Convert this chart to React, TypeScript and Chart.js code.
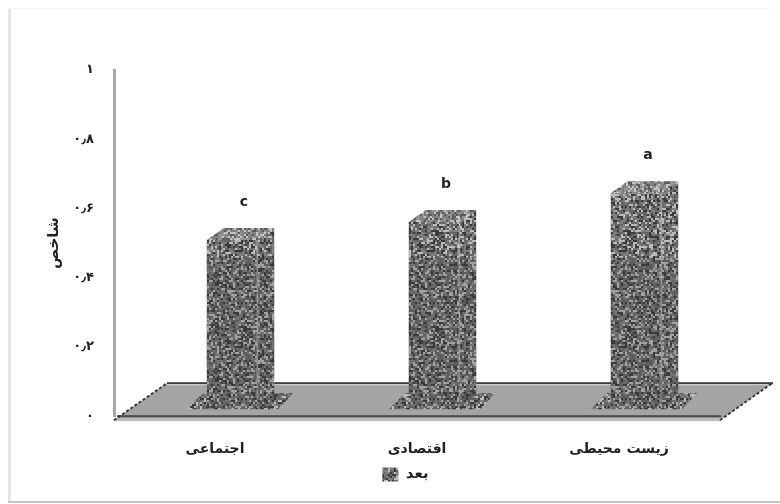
import React, { useEffect, useRef } from "react";
import { Chart, registerables } from "chart.js";

Chart.register(...registerables);

const categories = ["اجتماعی", "اقتصادی", "زیست محیطی"];
const scores = [0.486, 0.538, 0.621];
const groupLetters = ["c", "b", "a"];
const yTickValues = [0, 0.2, 0.4, 0.6, 0.8, 1];
const yTickLabels = ["۰", "۰٫۲", "۰٫۴", "۰٫۶", "۰٫۸", "۱"];
const yAxisTitle = "شاخص";
const seriesName = "بعد";

const FONT = "'DejaVu Sans', sans-serif";
const DEPTH_X = 17;
const DEPTH_Y = 12;
const LIFT = 8;
const SHADE_FROM = 0.46;

// Speckled fill shared by the columns, their footprints and the legend swatch.
function makeSpeckle(ctx: CanvasRenderingContext2D, base: string) {
  const size = 96;
  const tile = document.createElement("canvas");
  tile.width = size;
  tile.height = size;
  const t = tile.getContext("2d")!;
  t.fillStyle = base;
  t.fillRect(0, 0, size, size);
  let s = 12345;
  const next = () => {
    s = (s * 1103515 + 12345) & 0x7fffffff;
    return (s >> 8) / (0x7fffffff >> 8);
  };
  for (let y = 0; y < size; y += 2) {
    for (let x = 0; x < size; x += 2) {
      const r = next();
      if (r < 0.24) t.fillStyle = "#3a3a3a";
      else if (r < 0.44) t.fillStyle = "#bcbcbc";
      else if (r < 0.78) t.fillStyle = "#666666";
      else continue;
      t.fillRect(x, y, 2, 2);
    }
  }
  return ctx.createPattern(tile, "repeat")!;
}

function polygon(ctx: CanvasRenderingContext2D, pts: number[][]) {
  ctx.beginPath();
  pts.forEach(([x, y], i) => (i ? ctx.lineTo(x, y) : ctx.moveTo(x, y)));
  ctx.closePath();
}

export default function App() {
  const ref = useRef<HTMLCanvasElement>(null);

  useEffect(() => {
    const canvas = ref.current!;
    const speckle = makeSpeckle(canvas.getContext("2d")!, "#808080");

    const boxDepth = {
      id: "boxDepth",
      afterLayout(chart: any) {
        // Legend sits tight under the category labels, right of the page centre.
        const legend = chart.legend;
        legend.left += 23;
        legend.right += 23;
        legend.top -= 16;
        legend.bottom -= 16;
      },
      beforeDraw(chart: any) {
        const { ctx } = chart;
        ctx.save();
        ctx.fillStyle = "#e6e6e6";
        ctx.fillRect(8, 8, 3, 494);
        ctx.fillStyle = "#f7f7f7";
        ctx.fillRect(8, 8, 764, 1);
        ctx.fillStyle = "#c4c4c4";
        ctx.fillRect(8, 501, 772, 2);
        ctx.restore();
      },
      beforeDatasetsDraw(chart: any) {
        const { ctx, chartArea } = chart;
        const { left, right, bottom } = chartArea;
        const back = bottom - 33;
        ctx.save();
        // Floor slab
        polygon(ctx, [[left, bottom + 4], [right, bottom + 4], [right + 52, back], [left + 53, back]]);
        ctx.fillStyle = "#a4a4a4";
        ctx.fill();
        ctx.fillStyle = "#3c3c3c";
        ctx.fillRect(left + 53, back - 1, right - left, 2);
        ctx.fillStyle = "#d8d8d8";
        ctx.fillRect(left + 53, back + 1, right - left - 2, 1);
        ctx.fillStyle = "#4a4a4a";
        ctx.fillRect(left + 3, bottom - 1, right - left - 2, 2);
        ctx.fillStyle = "#bdbdbd";
        ctx.fillRect(left, bottom + 2, right - left, 3);
        ctx.strokeStyle = "#3a3a3a";
        ctx.lineWidth = 2;
        ctx.setLineDash([3, 2]);
        ctx.beginPath();
        ctx.moveTo(left, bottom + 4);
        ctx.lineTo(left + 53, back);
        ctx.moveTo(right, bottom + 4);
        ctx.lineTo(right + 52, back);
        ctx.stroke();
        ctx.setLineDash([]);
        // Footprint of each column on the floor
        const meta = chart.getDatasetMeta(0);
        meta.data.forEach((bar: any) => {
          const c = bar.x + DEPTH_X;
          const y0 = bottom - 7;
          polygon(ctx, [[c - 45, y0], [c + 46, y0], [c + 61, y0 - 16], [c - 29, y0 - 16]]);
          ctx.fillStyle = speckle;
          ctx.fill();
        });
        ctx.translate(DEPTH_X, -LIFT);
      },
      afterDatasetsDraw(chart: any) {
        const { ctx, scales } = chart;
        ctx.restore();
        ctx.save();
        const meta = chart.getDatasetMeta(0);
        const shadeY = scales.y.getPixelForValue(SHADE_FROM);
        meta.data.forEach((bar: any, i: number) => {
          const half = bar.width / 2;
          const xl = bar.x + DEPTH_X - half;
          const xr = bar.x + DEPTH_X + half;
          const top = bar.y - LIFT;
          const base = bar.base - LIFT;
          // Side face, top face and the lighter ridge between them
          polygon(ctx, [[xr, top], [xr + DEPTH_X, top - DEPTH_Y], [xr + DEPTH_X, base - DEPTH_Y + 10], [xr, base]]);
          ctx.fillStyle = speckle;
          ctx.fill();
          polygon(ctx, [[xl, top], [xl + DEPTH_X, top - DEPTH_Y], [xr + DEPTH_X, top - DEPTH_Y], [xr, top]]);
          ctx.fill();
          ctx.fillStyle = "rgba(230,230,230,0.2)";
          ctx.fill();
          ctx.fillStyle = "rgba(225,225,225,0.3)";
          ctx.fillRect(xr - 1, top, 2, base - top);
          ctx.fillStyle = "rgba(60,60,60,0.2)";
          ctx.fillRect(xl, shadeY, xr + DEPTH_X - xl, base - shadeY);
          // Group letter above the column
          ctx.fillStyle = "#222";
          ctx.font = `bold 14px ${FONT}`;
          ctx.textAlign = "center";
          ctx.textBaseline = "middle";
          ctx.fillText(groupLetters[i], bar.x + DEPTH_X + 12, top - DEPTH_Y - 26);
        });
        ctx.restore();
      },
    };

    const chart = new Chart(canvas, {
      type: "bar",
      data: {
        labels: categories,
        datasets: [
          {
            label: seriesName,
            data: scores,
            backgroundColor: speckle as any,
            barPercentage: 0.25,
            categoryPercentage: 1,
          },
        ],
      },
      options: {
        responsive: false,
        animation: false,
        layout: { padding: { left: 45, right: 60, top: 70, bottom: -4 } },
        plugins: {
          tooltip: { enabled: false },
          legend: {
            display: true,
            position: "bottom",
            labels: {
              boxWidth: 16,
              boxHeight: 14,
              padding: 0,
              color: "#222",
              font: { family: FONT, size: 15, weight: "bold" },
            },
          },
        },
        scales: {
          x: {
            grid: { display: false, drawTicks: false },
            border: { display: false },
            ticks: {
              padding: 25,
              color: "#222",
              maxRotation: 0,
              font: { family: FONT, size: 14, weight: "bold" },
            },
          },
          y: {
            min: 0,
            max: 1,
            afterFit: (axis: any) => {
              axis.width = 69;
            },
            afterBuildTicks: (axis: any) => {
              axis.ticks = yTickValues.map((value) => ({ value }));
            },
            grid: { display: false, drawTicks: false },
            border: { display: true, color: "#a8a8a8", width: 3 },
            title: {
              display: true,
              text: yAxisTitle,
              color: "#222",
              padding: { top: 0, bottom: 8 },
              font: { family: FONT, size: 15, weight: "bold" },
            },
            ticks: {
              padding: 20,
              color: "#222",
              callback: (value: any) => yTickLabels[yTickValues.indexOf(value)] ?? "",
              font: { family: FONT, size: 13, weight: "bold" },
            },
          },
        },
      },
      plugins: [boxDepth],
    } as any);
    return () => chart.destroy();
  }, []);

  return (
    <canvas
      ref={ref}
      width={780}
      height={504}
      style={{ position: "absolute", left: 0, top: 0, display: "block", filter: "blur(0.6px)" }}
    />
  );
}
